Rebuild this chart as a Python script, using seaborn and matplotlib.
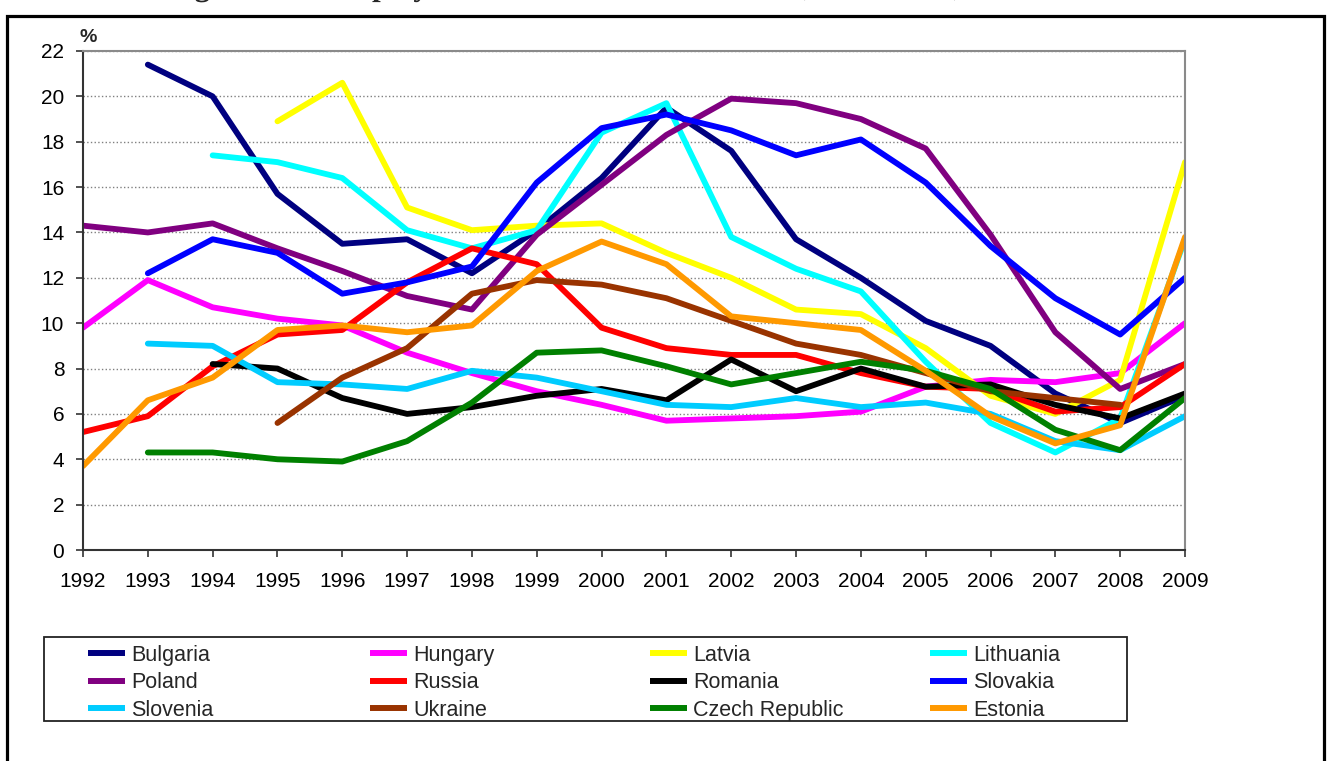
import numpy as np
import pandas as pd
import matplotlib.pyplot as plt
import matplotlib.patheffects as pe
from matplotlib.patches import Rectangle
from matplotlib.lines import Line2D
import seaborn as sns

# Data, unemployment rate in %
years = list(range(1992, 2010))
nan = np.nan

bulgaria = [nan, 21.4, 20.0, 15.7, 13.5, 13.7, 12.2, 14.1, 16.4, 19.5, 17.6, 13.7, 12.0, 10.1, 9.0, 6.9, 5.6, 6.8]
hungary = [9.8, 11.9, 10.7, 10.2, 9.9, 8.7, 7.8, 7.0, 6.4, 5.7, 5.8, 5.9, 6.1, 7.2, 7.5, 7.4, 7.8, 10.0]
latvia = [nan, nan, nan, 18.9, 20.6, 15.1, 14.1, 14.3, 14.4, 13.1, 12.0, 10.6, 10.4, 8.9, 6.8, 6.0, 7.5, 17.1]
lithuania = [nan, nan, 17.4, 17.1, 16.4, 14.1, 13.3, 14.1, 18.4, 19.7, 13.8, 12.4, 11.4, 8.3, 5.6, 4.3, 5.8, 13.7]
poland = [14.3, 14.0, 14.4, 13.3, 12.3, 11.2, 10.6, 13.9, 16.1, 18.3, 19.9, 19.7, 19.0, 17.7, 13.9, 9.6, 7.1, 8.2]
russia = [5.2, 5.9, 8.1, 9.5, 9.7, 11.8, 13.3, 12.6, 9.8, 8.9, 8.6, 8.6, 7.8, 7.2, 7.1, 6.1, 6.3, 8.2]
romania = [nan, nan, 8.2, 8.0, 6.7, 6.0, 6.3, 6.8, 7.1, 6.6, 8.4, 7.0, 8.0, 7.2, 7.3, 6.4, 5.8, 6.9]
slovakia = [nan, 12.2, 13.7, 13.1, 11.3, 11.8, 12.5, 16.2, 18.6, 19.2, 18.5, 17.4, 18.1, 16.2, 13.4, 11.1, 9.5, 12.0]
slovenia = [nan, 9.1, 9.0, 7.4, 7.3, 7.1, 7.9, 7.6, 7.0, 6.4, 6.3, 6.7, 6.3, 6.5, 6.0, 4.8, 4.4, 5.9]
ukraine = [nan, nan, nan, 5.6, 7.6, 8.9, 11.3, 11.9, 11.7, 11.1, 10.1, 9.1, 8.6, 7.8, 7.0, 6.7, 6.4, nan]
czech = [nan, 4.3, 4.3, 4.0, 3.9, 4.8, 6.5, 8.7, 8.8, 8.1, 7.3, 7.8, 8.3, 7.9, 7.1, 5.3, 4.4, 6.7]
estonia = [3.7, 6.6, 7.6, 9.7, 9.9, 9.6, 9.9, 12.3, 13.6, 12.6, 10.3, 10.0, 9.7, 7.9, 5.9, 4.7, 5.5, 13.8]

countries = ['Bulgaria', 'Hungary', 'Latvia', 'Lithuania', 'Poland', 'Russia',
             'Romania', 'Slovakia', 'Slovenia', 'Ukraine', 'Czech Republic', 'Estonia']
series = [bulgaria, hungary, latvia, lithuania, poland, russia,
          romania, slovakia, slovenia, ukraine, czech, estonia]
colors = ['#000080', '#FF00FF', '#FFFF00', '#00FFFF', '#800080', '#FF0000',
          '#000000', '#0000FF', '#00CCFF', '#993300', '#008000', '#FF9900']
palette = dict(zip(countries, colors))

rows = []
for name, vals in zip(countries, series):
    for y, v in zip(years, vals):
        rows.append({'Year': y, 'Rate': v, 'Country': name})
df = pd.DataFrame(rows).dropna()

sns.set_theme(style="white")
plt.rcParams['font.family'] = ['Liberation Sans', 'DejaVu Sans']

W, H = 1330, 761
fig = plt.figure(figsize=(W / 100, H / 100), dpi=100)
ax = fig.add_axes([83 / W, 1 - 550 / H, (1185 - 83) / W, (550 - 51) / H])

sns.lineplot(data=df, x='Year', y='Rate', hue='Country', hue_order=countries,
             palette=palette, linewidth=4.2, errorbar=None, legend=False, ax=ax)

ax.set_xlim(1992, 2009)
ax.set_ylim(0, 22)
ax.set_xticks(years)
ax.set_yticks(range(0, 23, 2))
ax.set_xlabel('')
ax.set_ylabel('')
ax.yaxis.grid(True, linestyle=':', color='#808080', linewidth=1.0)
ax.set_axisbelow(True)
ax.tick_params(axis='both', direction='out', length=5, width=1.2, color='#333333',
               labelsize=15, labelcolor='black', bottom=True, left=True)
ax.tick_params(axis='y', pad=8.5)
ax.tick_params(axis='x', pad=10.5)
for side in ['left', 'bottom']:
    ax.spines[side].set_color('#333333')
    ax.spines[side].set_linewidth(1.5)
for side in ['top', 'right']:
    ax.spines[side].set_color('#8a8a8a')
    ax.spines[side].set_linewidth(1.5)

fig.text(80 / W, 1 - 37 / H, '%', fontsize=14, fontweight='bold', va='center', ha='left')

# Title (cut off at the top edge of the picture, only descenders show)
fig.text(167 / W, 1 + 4.5 / H, 'Figure 1. Unemployment rates in CEE countries, 1992-2009, %',
         fontsize=22.3, fontweight='bold', family=['Liberation Serif', 'DejaVu Serif'],
         va='baseline', ha='left', path_effects=[pe.Normal()])

# Legend: 3 rows x 4 columns, row-wise order
col_x = [88, 370, 650, 930]
for c in range(4):
    names = countries[c::4]
    handles = [Line2D([0], [0], color=palette[n], lw=4.3, solid_capstyle='butt') for n in names]
    fig.legend(handles, names, loc='upper left', bbox_to_anchor=(col_x[c] / W, 1 - 645 / H),
               frameon=False, fontsize=15.5, handlelength=1.72, handletextpad=0.28,
               labelspacing=0.3, borderpad=0, borderaxespad=0)

fig.add_artist(Rectangle((44 / W, 1 - 721 / H), (1127 - 44) / W, (721 - 637) / H,
                         transform=fig.transFigure, fill=False, edgecolor='#222222', lw=1.3))

# outer frame
fig.add_artist(Rectangle((7 / W, -0.05), (1324 - 7) / W, 1 - 16 / H + 0.05,
                         transform=fig.transFigure, fill=False, edgecolor='black', lw=2.3))

fig.savefig('out.png', dpi=100)
